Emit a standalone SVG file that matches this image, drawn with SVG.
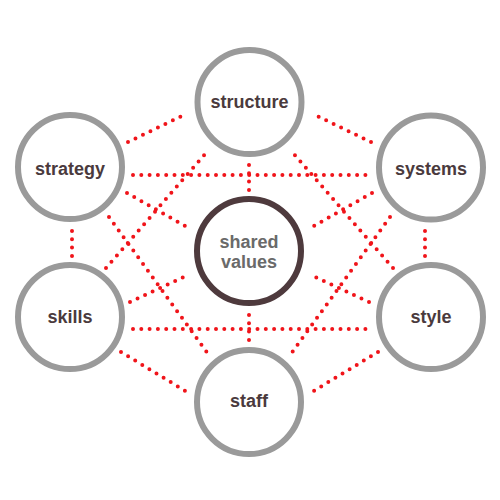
<svg xmlns="http://www.w3.org/2000/svg" width="500" height="500" viewBox="0 0 500 500">
<style>
.dot{stroke:#f0141a;stroke-width:4;stroke-linecap:round;stroke-dasharray:0 8.3;fill:none}
.ring{fill:#fff;stroke:#9a9a9a;stroke-width:6}
.core{fill:#fff;stroke:#4e3a3d;stroke-width:6}
.lbl{font-family:"Liberation Sans",Arial,sans-serif;font-weight:bold;font-size:18px;fill:#4a3a3d;text-anchor:middle}
.core-lbl{fill:#6a6a6a}
</style>
<rect width="500" height="500" fill="#fff"/>
<g id="connectors">
<line class="dot" x1="128" y1="142" x2="184" y2="115"/>
<line class="dot" x1="127" y1="193" x2="187" y2="227"/>
<line class="dot" x1="109" y1="217" x2="211" y2="358"/>
<line class="dot" x1="106" y1="268" x2="206" y2="153"/>
<line class="dot" x1="130" y1="302" x2="186" y2="276"/>
<line class="dot" x1="121" y1="352" x2="187" y2="392"/>
<line class="dot" x1="72" y1="231" x2="72" y2="256"/>
<line class="dot" x1="371" y1="142" x2="315" y2="115"/>
<line class="dot" x1="372" y1="193" x2="312" y2="227"/>
<line class="dot" x1="390" y1="217" x2="288" y2="358"/>
<line class="dot" x1="393" y1="268" x2="293" y2="153"/>
<line class="dot" x1="369" y1="302" x2="313" y2="276"/>
<line class="dot" x1="378" y1="352" x2="312" y2="392"/>
<line class="dot" x1="425" y1="231" x2="425" y2="256"/>
<line class="dot" x1="133" y1="175" x2="368" y2="175"/>
<line class="dot" x1="133" y1="329" x2="368" y2="329"/>
<line class="dot" x1="249" y1="165" x2="249" y2="190"/>
<line class="dot" x1="249" y1="315" x2="249" y2="341"/>
</g>
<g id="structure"><circle class="ring" cx="249.5" cy="102" r="52"/><text class="lbl" x="249.5" y="107.5">structure</text></g>
<g id="strategy"><circle class="ring" cx="70" cy="167" r="52"/><text class="lbl" x="70" y="175">strategy</text></g>
<g id="systems"><circle class="ring" cx="431" cy="167.5" r="52"/><text class="lbl" x="431" y="175">systems</text></g>
<g id="shared-values"><circle class="core" cx="249" cy="251" r="52"/><text class="lbl core-lbl" x="249" y="248">shared</text><text class="lbl core-lbl" x="249" y="267.5">values</text></g>
<g id="skills"><circle class="ring" cx="70" cy="317" r="52"/><text class="lbl" x="70" y="323">skills</text></g>
<g id="style"><circle class="ring" cx="431" cy="317" r="52"/><text class="lbl" x="431" y="323">style</text></g>
<g id="staff"><circle class="ring" cx="249" cy="402" r="52"/><text class="lbl" x="249" y="407">staff</text></g>
</svg>
